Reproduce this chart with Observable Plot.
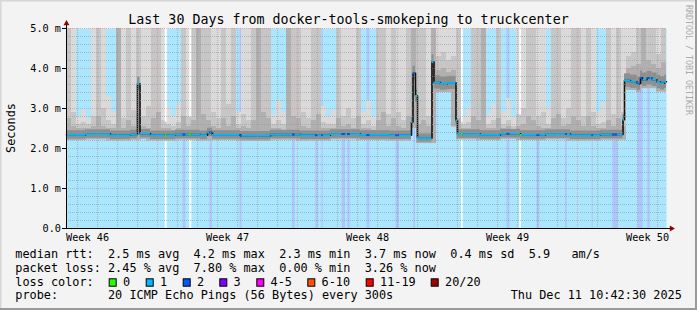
<!DOCTYPE html>
<html><head><meta charset="utf-8">
<script src="https://cdn.jsdelivr.net/npm/d3@7"></script>
<script src="https://cdn.jsdelivr.net/npm/@observablehq/plot@0.6"></script>
<style>html,body{margin:0;padding:0;background:#f3f3f3;} svg{display:block}</style>
</head><body><div id="chart"></div>
<script>
// ---------------- DATA ----------------
const title = "Last 30 Days from docker-tools-smokeping to truckcenter";
const yAxisTitle = "Seconds";
const sideText = "RRDTOOL / TOBI OETIKER";
const startTime = new Date(Date.UTC(2025, 10, 11, 10, 42, 30));
const endTime = new Date(Date.UTC(2025, 11, 11, 10, 42, 30));
const binHours = 6; // each smoke bin covers 6 hours

// smoke (ping spread) per 6h bin: top of lightest, middle and darker layers (ms)
const smokeTop1 = [
5,5,2.8,2.95,2.75,5,5,5,3.3,2.9,
5,5,5,5,5,5,5,5,5,5,
3.0,2.8,3.1,5,5,5,5,5,5,5,
5,5,5,5,2.9,5,5,5,5,5,
5,2.85,3.2,2.9,5,5,5,5,5,5,
5,3.05,2.8,2.95,5,5,5,5,5,2.9,
3.2,2.8,5,5,5,5,5,5,5,5,
5,5,5,5,5,5,5,5,5,2.8,
3.0,5,5,5,2.85,3.1,5,2.9,3.25,2.8,
5,5,5,5,5,5,3.0,5,5,5,
5,5,5,5,5,5,2.9,3.15,5,5,
5,5,5,5,5,5,5,5,5,5];
const smokeTop2 = [
5,2.9,2.6,2.65,2.6,2.8,5,3.0,2.7,2.6,
5,2.75,5,2.95,5,2.8,3.05,5,5,2.7,
2.6,2.55,2.65,5,2.8,5,5,5,5,2.9,
2.75,5,3.1,5,2.6,2.85,2.7,5,5,5,
5,2.6,2.7,2.6,5,5,5,2.9,2.75,5,
5,2.65,2.6,2.6,5,2.8,3.0,2.75,5,2.6,
2.7,2.55,5,5,2.85,5,2.9,2.7,5,5,
5,5,2.8,5,4.3,4.4,4.2,4.3,5,2.6,
2.65,5,5,5,2.6,2.7,5,2.6,2.7,2.55,
2.85,3.0,5,5,2.8,2.9,2.6,5,5,2.75,
3.0,5,5,2.8,5,2.9,2.6,2.65,5,2.85,
5,2.9,4.3,4.4,5,5,5,5,4.35,5];
const smokeTop3 = [
2.75,2.55,2.5,2.5,2.5,2.55,2.8,2.55,2.5,2.5,
5,2.5,2.7,2.55,2.85,2.55,2.5,2.75,2.9,2.5,
2.5,2.45,2.5,2.8,2.55,2.7,5,2.85,2.7,2.55,
2.5,2.75,2.55,2.8,2.5,2.55,2.5,2.7,5,2.9,
2.75,2.5,2.5,2.45,5,2.8,2.75,2.55,2.5,2.7,
2.85,2.5,2.5,2.5,2.75,2.55,2.6,2.5,2.8,2.5,
2.5,2.45,2.7,2.9,2.55,2.75,2.55,2.5,2.8,5,
2.6,2.7,2.55,5,3.95,4.0,3.9,3.95,2.75,2.5,
2.5,2.8,2.7,5,2.5,2.5,2.75,2.5,2.55,2.45,
2.55,2.6,2.8,2.7,2.55,2.5,2.5,2.75,2.85,2.55,
2.6,2.8,2.7,2.55,2.8,2.55,2.5,2.5,2.7,2.55,
2.75,2.55,4.0,4.05,4.1,5,4.2,4.1,4.0,4.15];

// median rtt as a step series: change points (days since start) and values (ms)
const medianDay = [0,0.95,2.2,3.2,3.55,3.675,4.2,5.45,6.7,7.05,7.3,8.7,10.2,11.7,13.2,14.7,16.2,
  17.25,17.325,17.45,17.55,18.275,18.375,18.7,19.05,19.475,19.55,20.7,21.7,22.7,23.95,25.2,26.7,
  27.825,27.9,28.2,28.525,28.7,28.8,29.025,29.275,29.525,29.7,29.9];
const medianMs = [2.34,2.36,2.33,2.35,3.62,2.37,2.33,2.35,2.33,2.40,2.34,2.32,2.35,2.33,2.36,2.34,2.33,
  2.66,3.88,3.31,2.26,4.16,3.65,3.62,3.64,2.70,2.36,2.34,2.37,2.34,2.36,2.33,2.35,
  2.72,3.70,3.67,3.62,3.77,3.72,3.76,3.72,3.66,3.63,3.67];

// loss periods (days since start); default loss is 1/20
const loss2Periods = [[5.835,5.965],[7.175,7.3],[8.675,8.775],[11.3,11.425],[12.465,12.575],[12.775,12.835],
  [13.785,13.95],[14.065,14.185],[15.035,15.165],[16.485,16.65],[17.365,17.45],[22.035,22.165],
  [23.535,23.665],[24.95,25.035],[26.285,26.335],[27.315,27.565],[28.585,28.835],[29.065,29.185]];
const loss0Periods = [[4.935,5.035],[6.165,6.265],[19.75,19.835],[22.665,22.75]];
const loss0SmokeTop = [2.66,2.78,2.66,2.83];

const yTicks = [0,1,2,3,4,5];
const yTickLabels = ["0.0","1.0 m","2.0 m","3.0 m","4.0 m","5.0 m"];
const weekLabels = ["Week 46","Week 47","Week 48","Week 49","Week 50"];
const weekLabelDates = [Date.UTC(2025,10,12,12),Date.UTC(2025,10,19,12),Date.UTC(2025,10,26,12),Date.UTC(2025,11,3,12),Date.UTC(2025,11,10,12)].map(t=>new Date(t));

const lossLabels = ["0","1","2","3","4-5","6-10","11-19","20/20"];
const lossColors = ["#26ff00","#00b8ff","#0059ff","#7e00ff","#ff00ff","#ff5500","#ff0000","#a10000"];
const rttLine = "median rtt:  2.5 ms avg  4.2 ms max  2.3 ms min  3.7 ms now  0.4 ms sd  5.9   am/s";
const lossLine = "packet loss: 2.45 % avg  7.80 % max  0.00 % min  3.26 % now";
const lossColorTitle = "loss color:";
const probeLine = "probe:       20 ICMP Echo Pings (56 Bytes) every 300s";
const stampLine = "Thu Dec 11 10:42:30 2025";

// ---------------- STYLE / LAYOUT ----------------
const mono = "DejaVu Sans Mono";
const lossBg = {1: "#aae6fd", 2: "#afc4fb"};
const smokeColors = ["#dadada", "#c6c6c6", "#b0b0b0", "#8e8e8e"];
const legendBoxX = [108.7,145.7,182.7,219.3,256.3,307.3,365.7,430.7];

// ---------------- DERIVED ----------------
const DAY = 86400000;
const toDate = d => new Date(+startTime + d * DAY);
const totalDays = (endTime - startTime) / DAY;
function medianAt(d) { let k = 0; for (let i = 0; i < medianDay.length; i++) if (medianDay[i] <= d) k = i; return medianMs[k]; }
function lossAt(d) {
  if (loss0Periods.some(([a,b]) => d >= a && d < b)) return 0;
  if (loss2Periods.some(([a,b]) => d >= a && d < b)) return 2;
  return 1;
}
const binDays = binHours / 24;
const bins = smokeTop1.map((t1, i) => {
  const a = i * binDays, b = (i + 1) * binDays;
  let m = medianAt(a);
  medianDay.forEach((d, k) => { if (d > a && d < b) m = Math.min(m, medianMs[k]); });
  return {x1: toDate(a), x2: toDate(b), t1, t2: smokeTop2[i], t3: smokeTop3[i], bottom: m * 0.94};
});
const medSegs = medianDay.map((d, k) => ({x1: toDate(d), x2: toDate(k + 1 < medianDay.length ? medianDay[k+1] : totalDays), v: medianMs[k]}));
const medPoints = medianDay.map((d, k) => ({x: toDate(d), y: medianMs[k]})).concat([{x: endTime, y: medianMs[medianMs.length-1]}]);
const bounds = Array.from(new Set([0, totalDays, ...medianDay, ...loss2Periods.flat(), ...loss0Periods.flat()])).sort((a,b)=>a-b);
const colorSegs = [];
for (let i = 0; i + 1 < bounds.length; i++) {
  const a = bounds[i], b = bounds[i+1], mid = (a + b) / 2;
  colorSegs.push({x1: toDate(a), x2: toDate(b), v: medianAt(mid), loss: lossAt(mid)});
}
const loss2Rows = loss2Periods.map(([a,b]) => ({x1: toDate(a), x2: toDate(b)}));
const loss0Rows = loss0Periods.map(([a,b], i) => ({x1: toDate(a), x2: toDate(b), top: loss0SmokeTop[i]}));
const weekMap = new Map(weekLabelDates.map((d, i) => [+d, weekLabels[i]]));
const yLabelMap = new Map(yTicks.map((v, i) => [v, yTickLabels[i]]));
const minorY = d3.range(1, 25).map(i => i * 0.2).filter(v => Math.abs(v - Math.round(v)) > 1e-6);
const majorY = yTicks.filter(v => v > 0);
const majorX = d3.utcSunday.range(startTime, endTime);
const minorX = d3.utcDay.range(startTime, endTime).filter(d => d.getUTCDay() !== 0);

const minorGrid = {stroke: "rgb(150,150,150)", strokeOpacity: 0.6, strokeDasharray: "1,1"};
const majorGrid = {stroke: "rgb(225,100,110)", strokeOpacity: 0.42, strokeDasharray: "1,1"};

const chart = Plot.plot({
  width: 697, height: 310,
  marginLeft: 66, marginRight: 31, marginTop: 28, marginBottom: 82,
  x: {type: "utc", domain: [startTime, endTime]},
  y: {domain: [0, 5]},
  style: {background: "#f3f3f3", fontFamily: mono, fontSize: "10.2px", overflow: "visible"},
  marks: [
    Plot.frame({fill: lossBg[1], stroke: null}),
    Plot.rect(loss2Rows, {x1: "x1", x2: "x2", y1: 0, y2: 5, fill: lossBg[2]}),
    Plot.rect(loss0Rows, {x1: "x1", x2: "x2", y1: 0, y2: 5, fill: "#ffffff"}),
    Plot.rect(bins, {x1: "x1", x2: "x2", y1: "bottom", y2: "t1", fill: smokeColors[0]}),
    Plot.rect(bins, {x1: "x1", x2: "x2", y1: "bottom", y2: "t2", fill: smokeColors[1]}),
    Plot.rect(bins, {x1: "x1", x2: "x2", y1: "bottom", y2: "t3", fill: smokeColors[2]}),
    Plot.rect(loss0Rows, {x1: "x1", x2: "x2", y1: "top", y2: 5, fill: "#ffffff"}),
    Plot.rect(medSegs, {x1: "x1", x2: "x2", y1: d => d.v * 0.955, y2: d => d.v * 1.045, fill: smokeColors[3]}),
    Plot.line(medPoints, {x: "x", y: "y", curve: "step-after", stroke: "#111", strokeWidth: 1.6}),
    Plot.ruleY(colorSegs, {x1: "x1", x2: "x2", y: "v", stroke: d => lossColors[d.loss], strokeWidth: 2}),
    Plot.ruleY(minorY, minorGrid),
    Plot.ruleX(minorX, minorGrid),
    Plot.ruleY(majorY, majorGrid),
    Plot.ruleX(majorX, majorGrid),
    Plot.ruleY([0], {stroke: "#000", insetLeft: -3, insetRight: -4}),
    Plot.ruleX([startTime], {stroke: "#000", insetTop: -5}),
    Plot.dot([{x: endTime, y: 0}], {x: "x", y: "y", symbol: "triangle", r: 2.2, rotate: 90, fill: "#900000", stroke: null, dx: 5}),
    Plot.dot([{x: startTime, y: 5}], {x: "x", y: "y", symbol: "triangle", r: 2.2, fill: "#900000", stroke: null, dy: -5}),
    Plot.axisY(yTicks, {tickFormat: d => yLabelMap.get(d), tickSize: 4, tickPadding: 1.5, fontSize: 10.2, label: null}),
    Plot.axisX(weekLabelDates, {tickFormat: d => weekMap.get(+d), tickSize: 0, tickPadding: 5.5, fontSize: 10.2, label: null})
  ]
});
document.getElementById("chart").appendChild(chart);

// ---------------- TEXT (title, legend) ----------------
const svg = d3.select(chart);
function T(x, y, s, o = {}) {
  return svg.append("text").attr("x", x).attr("y", y)
    .attr("font-family", mono).attr("font-size", o.size || 11.85)
    .attr("fill", o.fill || "#000").attr("text-anchor", o.anchor || "start")
    .attr("transform", o.transform || null)
    .attr("xml:space", "preserve").style("white-space", "pre").text(s);
}
// frame shading
svg.append("path").attr("d", "M0,0H697V1.5H1.5V310H0Z").attr("fill", "#d6d6d6");
svg.append("path").attr("d", "M697,0V310H0V308H695V0Z").attr("fill", "#9a9a9a");
T(348.5, 24, title, {size: 13.3, anchor: "middle"});
T(0, 0, yAxisTitle, {anchor: "middle", transform: "translate(15,128) rotate(-90)"});
T(0, 0, sideText, {size: 8.3, fill: "#aaaaaa", transform: "translate(685.5,5) rotate(90)"});
T(15.3, 258.3, rttLine);
T(15.3, 271.8, lossLine);
T(15.3, 285.6, lossColorTitle);
lossLabels.forEach((lab, i) => {
  svg.append("rect").attr("x", legendBoxX[i] + 0.5).attr("y", 278.8).attr("width", 7).attr("height", 7.4)
    .attr("fill", lossColors[i]).attr("stroke", "#000").attr("stroke-width", 1);
  T(legendBoxX[i] + 14.3, 285.6, lab);
});
T(15.3, 299.2, probeLine);
T(681.8, 299.2, stampLine, {anchor: "end"});
</script></body></html>
